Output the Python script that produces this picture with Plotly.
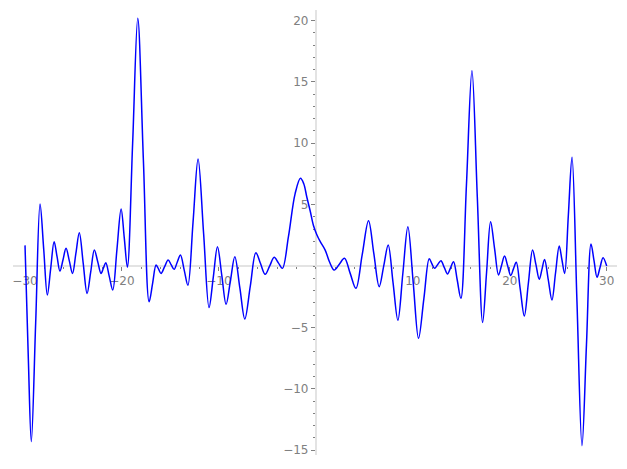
import plotly.graph_objects as go

# Points (x, y)
x_vals = [-30.0, -29.66, -29.35, -28.9, -28.45, -28.07, -27.7, -27.35, -27.0, -26.7,
          -26.4, -26.08, -25.77, -25.43, -25.1, -24.75, -24.4, -24.0, -23.6, -23.22,
          -22.85, -22.5, -22.16, -21.91, -21.67, -21.31, -20.95, -20.52, -20.09, -19.76,
          -19.44, -18.9, -18.37, -17.79, -17.2, -16.84, -16.48, -16.22, -15.97, -15.6,
          -15.24, -14.93, -14.62, -14.3, -13.97, -13.58, -13.2, -12.67, -12.15, -11.58,
          -11.02, -10.58, -10.15, -9.7, -9.26, -8.81, -8.36, -7.84, -7.33, -6.76,
          -6.19, -5.71, -5.23, -4.76, -4.3, -3.87, -3.45, -2.83, -2.14, -1.59,
          -1.25, -0.93, -0.59, -0.25, 0.1, 0.44, 0.96, 1.4, 1.89, 2.42,
          2.95, 3.54, 4.13, 4.78, 5.43, 5.98, 6.53, 7.0, 7.46, 7.96,
          8.46, 8.97, 9.49, 10.04, 10.59, 11.14, 11.69, 11.96, 12.24, 12.57,
          12.9, 13.24, 13.58, 13.89, 14.2, 14.58, 14.96, 15.53, 16.1, 16.65,
          17.2, 17.61, 18.02, 18.43, 18.84, 19.15, 19.46, 19.78, 20.1, 20.38,
          20.67, 21.08, 21.5, 21.92, 22.35, 22.7, 23.04, 23.32, 23.59, 23.97,
          24.35, 24.72, 25.1, 25.38, 25.66, 26.04, 26.42, 26.93, 27.45, 27.91,
          28.38, 28.69, 29.0, 29.31, 29.62, 30.0]
y_vals = [1.68, -7.5, -14.3, -4.6, 5.05, 1.35, -2.36, -0.19, 1.98, 0.78,
          -0.41, 0.51, 1.44, 0.42, -0.6, 1.05, 2.71, 0.24, -2.23, -0.46,
          1.3, 0.35, -0.6, -0.16, 0.27, -0.84, -1.95, 1.34, 4.64, 2.27,
          -0.1, 10.0, 20.17, 8.6, -2.9, -1.41, 0.08, -0.26, -0.6, -0.05,
          0.49, 0.11, -0.27, 0.31, 0.9, -0.33, -1.57, 3.57, 8.71, 2.66,
          -3.38, -0.9, 1.57, -0.78, -3.12, -1.18, 0.76, -1.78, -4.32, -1.62,
          1.09, 0.2, -0.68, 0.01, 0.71, 0.26, -0.19, 2.39, 5.9, 7.14,
          6.7, 5.6, 4.5, 3.3, 2.55, 2.0, 1.3, 0.35, -0.33, 0.15,
          0.63, -0.6, -1.82, 0.93, 3.69, 1.0, -1.68, 0.01, 1.71, -1.35,
          -4.42, -0.61, 3.2, -1.35, -5.89, -2.65, 0.6, 0.2, -0.19, 0.12,
          0.43, -0.11, -0.65, -0.15, 0.35, -1.14, -2.63, 6.6, 15.9, 5.65,
          -4.59, -0.49, 3.61, 1.44, -0.73, 0.04, 0.81, 0.02, -0.77, -0.23,
          0.3, -1.88, -4.07, -1.38, 1.3, 0.11, -1.08, -0.27, 0.54, -1.11,
          -2.77, -0.57, 1.63, 0.51, -0.6, 4.12, 8.85, -2.89, -14.63, -6.42,
          1.79, 0.43, -0.92, -0.12, 0.68, 0.0]

x_major = [-30, -20, -10, 10, 20, 30]
x_minor = list(range(-30, 31, 2))
y_major = [-15, -10, -5, 5, 10, 15, 20]
y_minor = list(range(-15, 21, 1))

XMIN, XMAX = -31.24, 31.06
YMIN, YMAX = -15.39, 20.85

fig = go.Figure()
fig.add_trace(go.Scatter(x=x_vals, y=y_vals, mode="lines",
                         line=dict(color="#0000ff", width=1.5, shape="spline", smoothing=1.0),
                         hoverinfo="skip"))

axis_font = dict(family="DejaVu Sans", size=12, color="#808080")
common = dict(showgrid=False, zeroline=False, showline=True, linecolor="#e3e3e3",
              linewidth=2, ticks="outside", ticklen=4, tickwidth=1, tickcolor="#808080",
              tickfont=axis_font, layer="below traces", automargin=False,
              anchor="free")

fig.update_layout(
    width=627, height=469,
    margin=dict(l=5, r=18, t=2, b=22),
    paper_bgcolor="white", plot_bgcolor="white",
    showlegend=False,
    xaxis=dict(range=[XMIN, XMAX], tickmode="array", tickvals=x_major,
               ticktext=["\u221230", "\u221220", "\u221210", "10", "20", "30"],
               position=(0 - YMIN) / (YMAX - YMIN),
               minor=dict(tickmode="array", tickvals=x_minor, ticks="outside", ticklen=2,
                          tickcolor="#808080", tickwidth=1),
               **common),
    yaxis=dict(range=[YMIN, YMAX], tickmode="array", tickvals=y_major,
               ticktext=["\u221215", "\u221210", "\u22125", "5", "10", "15", "20"],
               position=(0 - XMIN) / (XMAX - XMIN),
               minor=dict(tickmode="array", tickvals=y_minor, ticks="outside", ticklen=2,
                          tickcolor="#808080", tickwidth=1),
               **common),
)

fig.write_html("out.html")
